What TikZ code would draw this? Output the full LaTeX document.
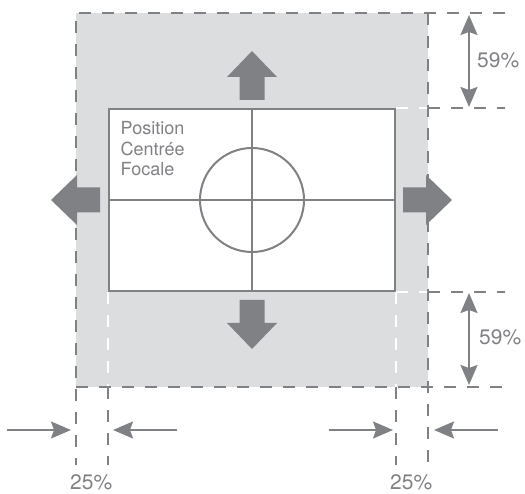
\documentclass[tikz,border=0pt]{standalone}
\usepackage{fontspec}
\setmainfont{TeX Gyre Heros}
\usetikzlibrary{arrows.meta}
\definecolor{markgray}{RGB}{128,129,133}
\definecolor{zonegray}{RGB}{220,221,223}

\begin{document}
\begin{tikzpicture}[x=1pt,y=-1pt,
  >={Stealth[length=20pt,width=17pt,inset=3pt]},
  edge/.style={draw=markgray,line width=2.5pt,dash pattern=on 12pt off 11pt},
  ghost/.style={edge,draw=white},
  dim/.style={draw=markgray,line width=2pt},
  pct/.style={text=markgray,font=\fontsize{21}{21}\selectfont,inner sep=0pt,anchor=base west},
  blockarrow/.pic={\fill[markgray] (0,0) -- (25,26) -- (12.5,26) -- (12.5,49)
    -- (-12.5,49) -- (-12.5,26) -- (-25,26) -- cycle;}]
\useasboundingbox (0,0) rectangle (525,494);
% zone de recadrage
\coordinate (zoneNW) at (76,13);
\coordinate (zoneNE) at (428,13);
\coordinate (zoneSW) at (76,387);
\coordinate (zoneSE) at (428,387);
\fill[zonegray] (zoneNW) rectangle (zoneSE);
\node[draw=markgray,line width=2pt,fill=white,inner sep=0pt,
  minimum width=286pt,minimum height=182pt] (frame) at (252,200) {};
% reperes blancs
\draw[ghost] (frame.north east) -- (frame.north east -| zoneNE);
\draw[ghost] (frame.south east) -- (frame.south east -| zoneNE);
\draw[ghost] (frame.south west) -- (frame.south west |- zoneSW);
\draw[ghost] (frame.south east) -- (frame.south east |- zoneSE);
% reperes gris
\coordinate (ruleR) at (505,0);
\coordinate (ruleB) at (0,465);
\draw[edge] (zoneNW -| ruleR) -- (zoneNW) -- (zoneNW |- ruleB);
\draw[edge] (zoneNE) -- (zoneNE |- ruleB);
\draw[edge] (zoneSW) -- (zoneSW -| ruleR);
\draw[edge] (frame.north east -| zoneNE) -- (frame.north east -| ruleR);
\draw[edge] (frame.south east -| zoneNE) -- (frame.south east -| ruleR);
\draw[edge] (frame.south west |- zoneSW) -- (frame.south west |- ruleB);
\draw[edge] (frame.south east |- zoneSE) -- (frame.south east |- ruleB);
% cadre
\draw[markgray,line width=2pt] (frame.north) -- (frame.south);
\draw[markgray,line width=2pt] (frame.west) -- (frame.east);
\node[draw=markgray,line width=2pt,circle,inner sep=0pt,minimum size=104pt]
  (focus) at (frame.center) {};
\node[anchor=north west,align=left,inner sep=0pt,text=markgray,
  font=\fontsize{18}{20.5}\selectfont] (caption) at (120.5,121.5)
  {Position\\Centrée\\Focale};
% fleches
\pic at (252,51) {blockarrow};
\pic[rotate=180] at (252,349) {blockarrow};
\pic[rotate=90] at (51,200) {blockarrow};
\pic[rotate=-90] at (452,200) {blockarrow};
% cotes verticales
\coordinate (topA) at (469,15);
\coordinate (topB) at (469,107);
\coordinate (botA) at (469,293);
\coordinate (botB) at (469,385);
\draw[dim,<->] (topA) -- (topB);
\draw[dim,<->] (botA) -- (botB);
\node[pct] (pctTop) at (477,68) {59\%};
\node[pct] (pctBot) at (479,345) {59\%};
% cotes horizontales
\coordinate (leftA) at (7,430);
\coordinate (leftB) at (71,430);
\coordinate (leftC) at (177,430);
\coordinate (leftD) at (113,430);
\coordinate (rightA) at (329,430);
\coordinate (rightB) at (393,430);
\coordinate (rightC) at (498,430);
\coordinate (rightD) at (434,430);
\draw[dim,->] (leftA) -- (leftB);
\draw[dim,->] (leftC) -- (leftD);
\draw[dim,->] (rightA) -- (rightB);
\draw[dim,->] (rightC) -- (rightD);
\node[pct] (pctLeft) at (70,489) {25\%};
\node[pct] (pctRight) at (390,489) {25\%};
\end{tikzpicture}
\end{document}
